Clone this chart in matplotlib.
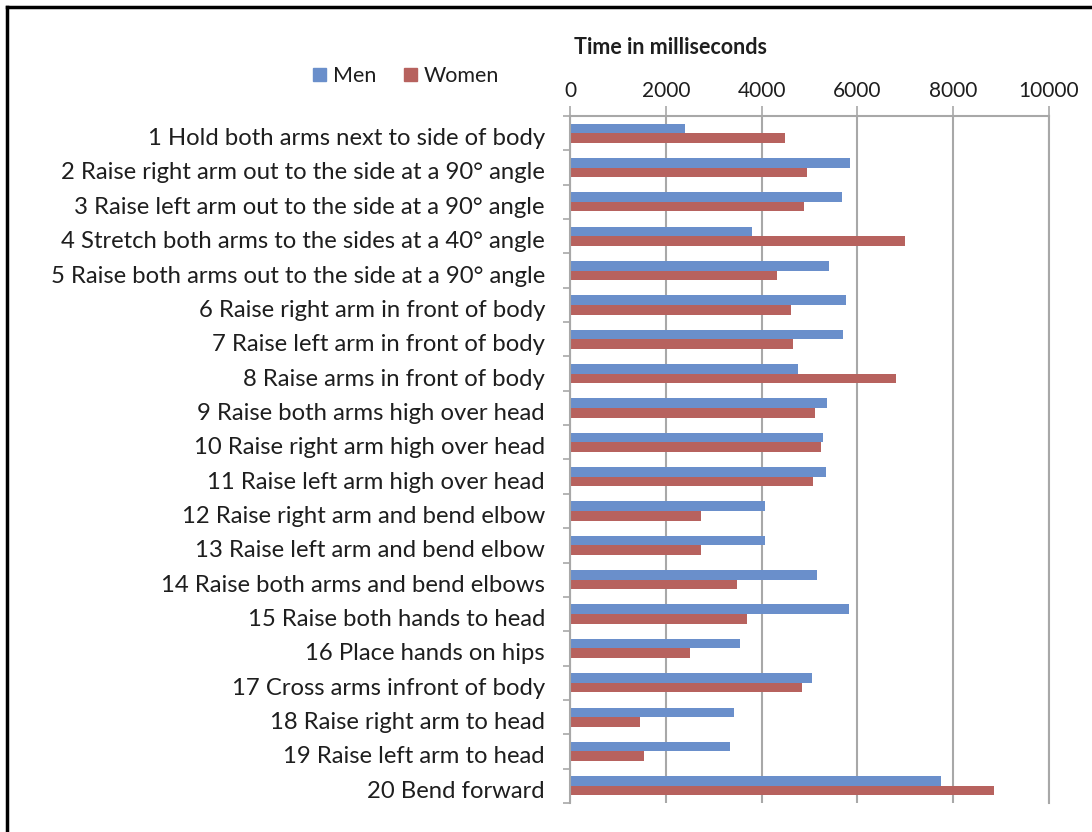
import numpy as np
import matplotlib
matplotlib.use("Agg")
import matplotlib.pyplot as plt
import matplotlib.transforms as mtransforms
from matplotlib.lines import Line2D
from matplotlib.patches import Patch

poses = [
    "1 Hold both arms next to side of body",
    "2 Raise right arm out to the side at a 90° angle",
    "3 Raise left arm out to the side at a 90° angle",
    "4 Stretch both arms to the sides at a 40° angle",
    "5 Raise both arms out to the side at a 90° angle",
    "6 Raise right arm in front of body",
    "7 Raise left arm in front of body",
    "8 Raise arms in front of body",
    "9 Raise both arms high over head",
    "10 Raise right arm high over head",
    "11 Raise left arm high over head",
    "12 Raise right arm and bend elbow",
    "13 Raise left arm and bend elbow",
    "14 Raise both arms and bend elbows",
    "15 Raise both hands to head",
    "16 Place hands on hips",
    "17 Cross arms infront of body",
    "18 Raise right arm to head",
    "19 Raise left arm to head",
    "20 Bend forward",
]
men = [2410, 5850, 5670, 3810, 5400, 5760, 5700, 4760, 5375, 5280,
       5340, 4080, 4080, 5150, 5830, 3550, 5050, 3420, 3350, 7740]
women = [4490, 4940, 4880, 7000, 4330, 4620, 4660, 6810, 5110, 5240,
         5080, 2740, 2740, 3490, 3690, 2510, 4850, 1470, 1540, 8850]
xticks = [0, 2000, 4000, 6000, 8000, 10000]

blue = "#6A8FCB"
red = "#B7625E"
grid = "#A8A8A8"
txt = "#1E1E1E"
font = "Lato"

W, H = 1092, 832
fig = plt.figure(figsize=(W / 100, H / 100), dpi=100)
ax = fig.add_axes([570 / W, 1 - 803 / H, (1049 - 570) / W, (803 - 116) / H])

y = np.arange(len(poses))
h = 0.28
ax.barh(y - h / 2, men, height=h, color=blue, label="Men")
ax.barh(y + h / 2, women, height=h, color=red, label="Women")

ax.set_xlim(0, 10000)
ax.set_ylim(len(poses) - 0.5, -0.5)
ax.xaxis.tick_top()
ax.set_xticks(xticks)
ax.set_xticklabels([str(v) for v in xticks], fontsize=15, family=font, color=txt)
ax.tick_params(axis="x", length=7, width=1.2, color=grid, pad=4)
ax.grid(axis="x", color=grid, linewidth=1.5)
ax.set_axisbelow(True)

ax.set_yticks(y)
ax.set_yticklabels(poses, fontsize=17.2, family=font, color=txt)
ax.tick_params(axis="y", length=0, pad=18)
# nudge pose labels down a little
shift = mtransforms.ScaledTranslation(0, -2.5 / 72, fig.dpi_scale_trans)
for lbl in ax.get_yticklabels():
    lbl.set_transform(lbl.get_transform() + shift)
ax.set_yticks(np.arange(-0.5, len(poses)), minor=True)
ax.tick_params(axis="y", which="minor", length=5, width=1.2, color=grid)

for side in ("top", "left", "right"):
    ax.spines[side].set_color(grid)
    ax.spines[side].set_linewidth(1.5)
ax.spines["bottom"].set_visible(False)

fig.text(671 / W, 1 - 47 / H, "Time in milliseconds", ha="center", va="center",
         fontsize=15.5, fontweight="bold", family=font, color=txt)

handles = [Patch(color=blue, label="Men"), Patch(color=red, label="Women")]
fig.legend(handles=handles, loc="center", bbox_to_anchor=(406 / W, 1 - 76 / H),
           ncol=2, frameon=False, handlelength=0.6, handleheight=0.6,
           handletextpad=0.3, columnspacing=1.3,
           prop={"family": font, "size": 15.5})
for t in fig.legends[0].get_texts():
    t.set_color(txt)

# black frame on the left and top edges
fig.add_artist(Line2D([7 / W, 7 / W], [0, 1 - 7 / H], color="black", linewidth=2.5,
                      transform=fig.transFigure))
fig.add_artist(Line2D([7 / W, 1], [1 - 7 / H, 1 - 7 / H], color="black", linewidth=2.5,
                      transform=fig.transFigure))

fig.savefig("out.png", dpi=100)
